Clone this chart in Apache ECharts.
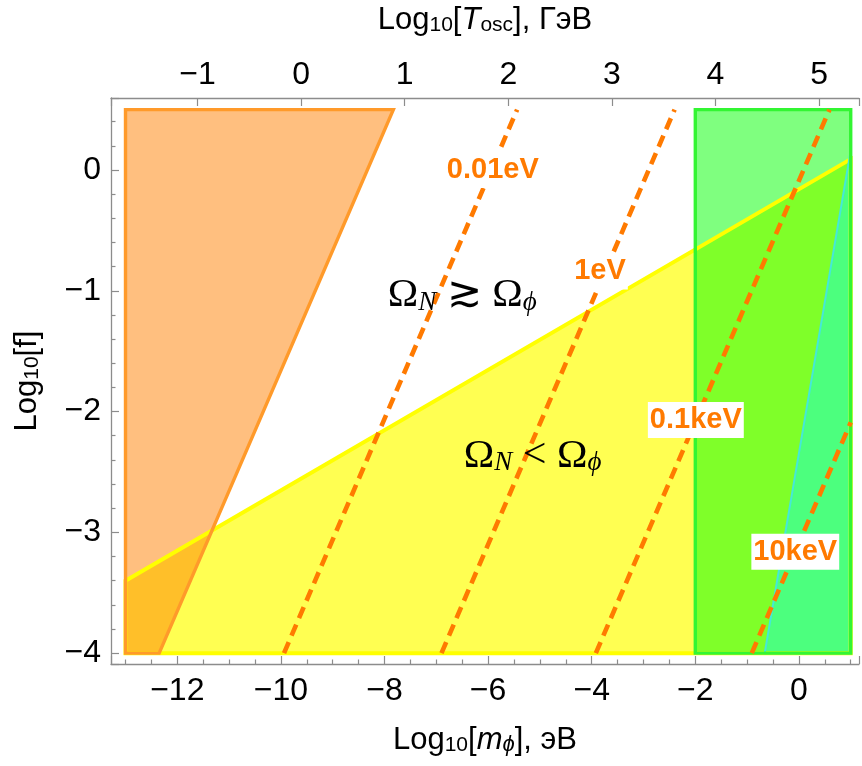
<!DOCTYPE html>
<html>
<head>
<meta charset="utf-8">
<script src="https://cdn.jsdelivr.net/npm/echarts@6/dist/echarts.min.js"></script>
<style>
html,body{margin:0;padding:0;background:#fff;}
#chart{width:862px;height:766px;}
</style>
</head>
<body>
<div id="chart"></div>
<script>
// ---- axis extents (Log10 m in eV, Log10 f) ----
const xRange = [-13.28, 1.16];
const yRange = [-4.09, 0.596];
// top axis: Log10[T_osc] (GeV) = (Log10[m] + tOffset) / 2
const tOffset = 9.61;

// ---- shaded regions (vertices in data units) ----
const yellowRegion = [[-13, -3.4], [1, 0.09], [1, -4], [-13, -4]];
const orangeRegion = [[-13, 0.5], [-7.83, 0.5], [-12.35, -4], [-13, -4]];
const greenRegion  = [[-2, 0.5], [1, 0.5], [1, -4], [-2, -4]];
const cyanRegion   = [[-0.66, -4], [1, 0.16], [1, -4]];

// ---- dashed iso-lines ----
const isoNames = ['0.01eV', '1eV', '0.1keV', '10keV'];
const iso001eV = [[-9.94, -4], [-5.44, 0.5]];
const iso1eV   = [[-6.90, -4], [-2.40, 0.5]];
const iso01keV = [[-3.92, -4], [0.59, 0.5]];
const iso10keV = [[-0.91, -4], [1.0, -2.09]];
const isoLabelPos = [[-5.91, 0.0], [-3.84, -0.84], [-1.99, -2.07], [-0.07, -3.16]];

// ---- region annotations ----
const omegaGtPos = [-6.5, -1.01];
const omegaLtPos = [-5.14, -2.34];

const ORANGE = '#FF7A00';
const AXIS = '#8c8c8c';
const SANS = 'Liberation Sans, Arial, sans-serif';
const SERIF = 'Liberation Serif, Times New Roman, serif';

const regions = [
  {pts: yellowRegion, fill: 'rgba(255,255,0,0.68)'},
  {pts: orangeRegion, fill: 'rgba(255,128,0,0.5)'},
  {pts: greenRegion,  fill: 'rgba(0,255,0,0.5)'},
  {pts: cyanRegion,   fill: 'rgba(0,255,255,0.4)'},
];
// border drawing order (green last so it covers cyan edges)
const borderOrder = [
  {pts: yellowRegion, stroke: '#FFFF00', w: 4},
  {pts: orangeRegion, stroke: '#FF9A2A', w: 3.4},
  {pts: cyanRegion,   stroke: '#45E8D8', w: 2},
  {pts: greenRegion,  stroke: '#33F533', w: 3.4},
];

function fmtNum(v) {
  const r = Math.round(v * 1000) / 1000;
  if (Math.abs(r - Math.round(r)) > 1e-6) return '';
  const n = Math.round(r);
  return n < 0 ? '\u2212' + Math.abs(n) : String(n);
}

const nameRich = {
  a: {fontSize: 31, fontFamily: SANS, color: '#000', lineHeight: 38, verticalAlign: 'bottom'},
  i: {fontSize: 31, fontFamily: SANS, fontStyle: 'italic', color: '#000', lineHeight: 38, verticalAlign: 'bottom'},
  s: {fontSize: 21, fontFamily: SANS, color: '#000', lineHeight: 18, verticalAlign: 'bottom'},
  si: {fontSize: 22, fontFamily: SANS, fontStyle: 'italic', color: '#000', lineHeight: 18, verticalAlign: 'bottom'}
};

function polySeries(list, kind, z) {
  return list.map(function (reg) {
    return {
      type: 'custom',
      coordinateSystem: 'cartesian2d',
      xAxisIndex: 0, yAxisIndex: 0,
      z: z, silent: true,
      data: reg.pts,
      encode: {x: 0, y: 1},
      renderItem: function (params, api) {
        if (params.dataIndex !== 0) return null;
        const pts = reg.pts.map(function (p) { return api.coord(p); });
        if (kind === 'fill') {
          return {type: 'polygon', shape: {points: pts}, style: {fill: reg.fill, stroke: null}};
        }
        return {type: 'polygon', shape: {points: pts}, style: {fill: null, stroke: reg.stroke, lineWidth: reg.w, lineJoin: 'miter'}};
      }
    };
  });
}

const isoLines = [iso001eV, iso1eV, iso01keV, iso10keV];
const lineSeries = isoLines.map(function (d) {
  return {
    type: 'line', data: d, xAxisIndex: 0, yAxisIndex: 0, z: 5,
    showSymbol: false, symbol: 'none', silent: true, animation: false,
    lineStyle: {color: ORANGE, width: 4.6, opacity: 1, type: [12, 7], cap: 'butt'}
  };
});

const chart = echarts.init(document.getElementById('chart'), null, {renderer: 'canvas'});
chart.setOption({
  animation: false,
  backgroundColor: '#fff',
  grid: {left: 111, right: 0, top: 95, bottom: 102, containLabel: false},
  xAxis: [
    {
      type: 'value', position: 'bottom', min: xRange[0], max: xRange[1], splitNumber: 7,
      axisLine: {show: true, onZero: false, lineStyle: {color: AXIS, width: 1.3}},
      axisTick: {show: true, inside: true, length: 8, lineStyle: {color: AXIS, width: 1.2}},
      minorTick: {show: true, splitNumber: 4, length: 4.5, lineStyle: {color: AXIS, width: 1.2}},
      splitLine: {show: false},
      axisLabel: {color: '#000', fontSize: 32, fontFamily: SANS, margin: 11, formatter: fmtNum},
      name: '{a|Log}{s|10}{a|[}{i|m}{si|\u03D5}{a|], эВ}',
      nameLocation: 'middle', nameGap: 54,
      nameTextStyle: {rich: nameRich}
    },
    {
      type: 'value', position: 'top', min: (xRange[0] + tOffset) / 2, max: (xRange[1] + tOffset) / 2, splitNumber: 7,
      axisLine: {show: true, onZero: false, lineStyle: {color: AXIS, width: 1.3}},
      axisTick: {show: true, inside: true, length: 8, lineStyle: {color: AXIS, width: 1.2}},
      minorTick: {show: false},
      splitLine: {show: false},
      axisLabel: {color: '#000', fontSize: 32, fontFamily: SANS, margin: 7, formatter: fmtNum},
      name: '{a|Log}{s|10}{a|[}{i|T}{s|osc}{a|], ГэВ}',
      nameLocation: 'middle', nameGap: 62,
      nameTextStyle: {rich: nameRich}
    }
  ],
  yAxis: [{
    type: 'value', position: 'left', min: yRange[0], max: yRange[1], splitNumber: 5,
    axisLine: {show: true, onZero: false, lineStyle: {color: AXIS, width: 1.3}},
    axisTick: {show: true, inside: true, length: 8, lineStyle: {color: AXIS, width: 1.2}},
    minorTick: {show: true, splitNumber: 5, length: 4.5, lineStyle: {color: AXIS, width: 1.2}},
    splitLine: {show: false},
    axisLabel: {color: '#000', fontSize: 32, fontFamily: SANS, margin: 10, formatter: fmtNum},
    name: '{a|Log}{s|10}{a|[f]}',
    nameLocation: 'middle', nameGap: 68, nameRotate: 90,
    nameTextStyle: {rich: nameRich}
  }],
  series: [].concat(
    polySeries(regions, 'fill', 1),
    polySeries(borderOrder, 'stroke', 2),
    lineSeries,
    [{
      type: 'scatter', xAxisIndex: 0, yAxisIndex: 0, z: 8, silent: true,
      symbolSize: 0, itemStyle: {opacity: 1},
      data: isoNames.map(function (n, k) { return {name: n, value: isoLabelPos[k]}; }),
      label: {
        show: true, position: 'inside', formatter: '{b}', opacity: 1,
        color: ORANGE, fontSize: 29, fontWeight: 'bold', fontFamily: SANS,
        backgroundColor: '#fff', padding: [2, 2, 0, 2], lineHeight: 34
      }
    },
    {
      type: 'scatter', xAxisIndex: 0, yAxisIndex: 0, z: 8, silent: true,
      symbolSize: 0, itemStyle: {opacity: 1},
      data: [
        {name: 'gt', value: omegaGtPos},
        {name: 'lt', value: omegaLtPos}
      ],
      label: {
        show: true, position: 'inside', opacity: 1,
        formatter: function (p) {
          return p.name === 'gt'
            ? '{o|\u03A9}{n|N}{r| \u2273 }{o|\u03A9}{p|\u03D5}'
            : '{o|\u03A9}{n|N}{r| < }{o|\u03A9}{p|\u03D5}';
        },
        rich: {
          o: {fontSize: 41, fontFamily: SERIF, color: '#000', lineHeight: 48, verticalAlign: 'bottom'},
          r: {fontSize: 42, fontFamily: SERIF, color: '#000', lineHeight: 48, verticalAlign: 'bottom'},
          n: {fontSize: 27, fontFamily: SERIF, fontStyle: 'italic', color: '#000', lineHeight: 29, verticalAlign: 'bottom'},
          p: {fontSize: 27, fontFamily: SERIF, fontStyle: 'italic', color: '#000', lineHeight: 29, verticalAlign: 'bottom'}
        }
      }
    }]
  )
});
</script>
</body>
</html>
